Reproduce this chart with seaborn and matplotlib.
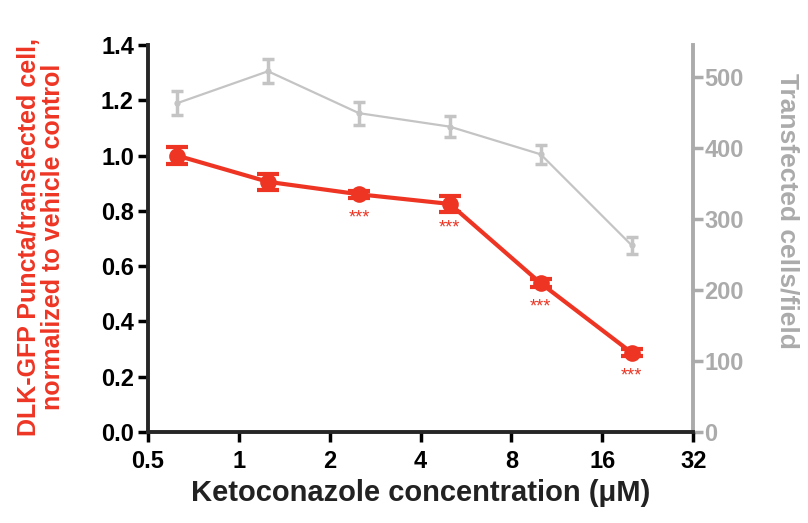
import numpy as np
import pandas as pd
import matplotlib
matplotlib.use("Agg")
import matplotlib.pyplot as plt
import seaborn as sns

# data
conc = [0.625, 1.25, 2.5, 5, 10, 20]
puncta = [1.0, 0.905, 0.86, 0.825, 0.538, 0.287]
puncta_err = [0.03, 0.03, 0.012, 0.03, 0.015, 0.012]
cells = [463, 508, 449, 430, 391, 263]
cells_err = [17, 17, 16, 15, 13, 12]
stars = ["", "", "***", "***", "***", "***"]
x_ticks = [0.5, 1, 2, 4, 8, 16, 32]

red = "#ee3524"
gray_line = "#c4c4c4"
gray_axis = "#ababab"

sns.set_style("ticks")
plt.rcParams['font.family'] = ['Liberation Sans', 'DejaVu Sans']

df = pd.DataFrame({"conc": conc, "puncta": puncta, "cells": cells})

fig = plt.figure(figsize=(8.08, 5.23), dpi=100)
ax = fig.add_axes([0.183, 0.174, 0.675, 0.74])
ax2 = ax.twinx()
ax2.set_zorder(ax.get_zorder() - 1)
ax.patch.set_visible(False)

# gray series, right axis
sns.lineplot(data=df, x="conc", y="cells", ax=ax2, color=gray_line, lw=1.6,
             marker="o", markersize=4.5, markeredgewidth=0)
ax2.errorbar(conc, cells, yerr=cells_err, fmt="none", ecolor=gray_line,
             elinewidth=2.5, capsize=4.5, capthick=2.5)

# red series, left axis
sns.lineplot(data=df, x="conc", y="puncta", ax=ax, color=red, lw=3,
             marker="o", markersize=12, markeredgewidth=0)
ax.errorbar(conc, puncta, yerr=puncta_err, fmt="none", ecolor=red,
            elinewidth=4, capsize=8, capthick=3)

for xv, yv, s in zip(conc, puncta, stars):
    if s:
        ax.annotate(s, (xv, yv), xytext=(0, -17), textcoords="offset points",
                    color=red, ha="center", va="center", fontsize=13)

ax.set_xscale("log", base=2)
ax.set_xlim(0.5, 32)
ax.set_xticks(x_ticks)
ax.set_xticklabels([str(t) for t in x_ticks])
ax.minorticks_off()
ax.set_ylim(0, 1.4)
ax.set_yticks(np.arange(0, 1.41, 0.2))
ax.set_yticklabels([f"{v:.1f}" for v in np.arange(0, 1.41, 0.2)])
ax2.set_ylim(0, 545)
ax2.set_yticks([0, 100, 200, 300, 400, 500])

for a in (ax, ax2):
    a.spines["top"].set_visible(False)
ax.spines["right"].set_visible(False)
ax2.spines["left"].set_visible(False)
ax2.spines["bottom"].set_visible(False)
ax.spines["left"].set_linewidth(2.8)
ax.spines["bottom"].set_linewidth(2.8)
ax2.spines["right"].set_linewidth(2.8)
ax2.spines["right"].set_color(gray_axis)

ax.tick_params(axis="both", length=7, width=2.5, labelsize=17, colors="black", pad=3)
ax.tick_params(axis="x", pad=6)
ax2.tick_params(axis="y", length=7, width=2.5, labelsize=17, colors=gray_axis, pad=1)
for lab in ax.get_xticklabels() + ax.get_yticklabels() + ax2.get_yticklabels():
    lab.set_fontweight("bold")

ax.set_xlabel("Ketoconazole concentration (\u03bcM)", fontsize=21, fontweight="bold",
              color="#222222", va="center")
ax.xaxis.set_label_coords(0.5, -0.158)
ax.set_ylabel("DLK-GFP Puncta/transfected cell,\nnormalized to vehicle control",
              fontsize=18, fontweight="bold", color=red, linespacing=1.0, va="center")
ax.yaxis.set_label_coords(-0.196, 0.504)
ax2.set_ylabel("Transfected cells/field", fontsize=19, fontweight="bold",
               color=gray_axis, rotation=270, va="center")
ax2.yaxis.set_label_coords(1.172, 0.571)

fig.savefig("out.png", dpi=100)
